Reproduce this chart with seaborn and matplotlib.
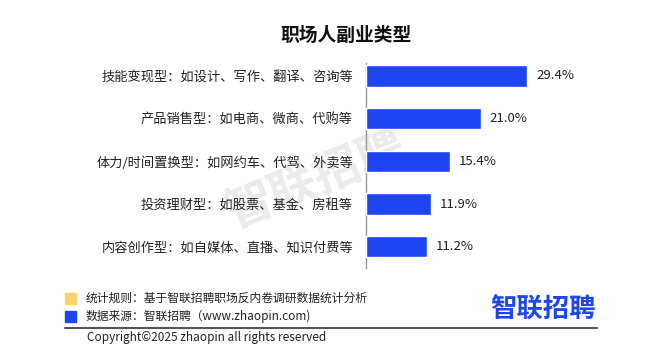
import matplotlib
matplotlib.use("Agg")
import matplotlib.pyplot as plt
import seaborn as sns
import pandas as pd
from matplotlib.patches import Rectangle
from matplotlib.lines import Line2D

# data
categories = [
    "技能变现型：如设计、写作、翻译、咨询等",
    "产品销售型：如电商、微商、代购等",
    "体力/时间置换型：如网约车、代驾、外卖等",
    "投资理财型：如股票、基金、房租等",
    "内容创作型：如自媒体、直播、知识付费等",
]
shares = [29.4, 21.0, 15.4, 11.9, 11.2]
value_labels = ["29.4%", "21.0%", "15.4%", "11.9%", "11.2%"]

title = "职场人副业类型"
note_rule = "统计规则：基于智联招聘职场反内卷调研数据统计分析"
note_source = "数据来源：智联招聘（www.zhaopin.com)"
copyright_text = "Copyright©2025 zhaopin all rights reserved"
logo_text = "智联招聘"

blue = "#1f45f3"
yellow = "#fdd36b"

sns.set_theme(style="white")
plt.rcParams['font.family'] = ['Noto Sans CJK SC', 'DejaVu Sans']

df = pd.DataFrame({"category": categories, "share": shares})

fig = plt.figure(figsize=(6.61, 3.58), dpi=100)
ax = fig.add_axes([0.553, 0.251, 0.354, 0.573])
ax.set_zorder(2)
ax.set_facecolor("none")

# watermark behind the chart
fig.text(316 / 661, 1 - 180 / 358, logo_text, fontsize=34, fontweight="bold", color="#ebebeb",
         rotation=22, ha="center", va="center", zorder=-5)

sns.barplot(data=df, y="category", x="share", color=blue, width=0.5,
            saturation=1, ax=ax, zorder=3)

for i, (v, lab) in enumerate(zip(shares, value_labels)):
    ax.text(v + 1.6, i, lab, va="center", ha="left", fontsize=9.5, color="#222222")

ax.set_xlim(0, 42.5)
ax.set_ylim(4.5, -0.3)
ax.set_xlabel("")
ax.set_ylabel("")
ax.set_xticks([])
for s in ["top", "right", "bottom"]:
    ax.spines[s].set_visible(False)
ax.spines["left"].set_color("#999999")
ax.spines["left"].set_linewidth(1)
ax.tick_params(axis="y", which="major", length=0, pad=9, labelsize=9.5, labelcolor="#222222")
ax.set_yticks([-0.3, 0.5, 1.5, 2.5, 3.5, 4.5], minor=True)
ax.tick_params(axis="y", which="minor", length=5, color="#999999", width=1)

fig.text(346 / 661, 1 - 35 / 358, title, fontsize=13.5, fontweight="bold",
         ha="center", va="center", color="#111111")

# footer
fig.patches.append(Rectangle((65 / 661, 1 - 304 / 358), 11 / 661, 11 / 358,
                             transform=fig.transFigure, color=yellow))
fig.patches.append(Rectangle((65 / 661, 1 - 322 / 358), 11 / 661, 11 / 358,
                             transform=fig.transFigure, color=blue))
fig.text(86 / 661, 1 - 298 / 358, note_rule, fontsize=8.5, va="center", color="#222222")
fig.text(86 / 661, 1 - 316 / 358, note_source, fontsize=8.5, va="center", color="#222222")
fig.lines.append(Line2D([65 / 661, 597 / 661], [1 - 328 / 358, 1 - 328 / 358],
                        transform=fig.transFigure, color="#555555", linewidth=1.5))
fig.text(87 / 661, 1 - 338 / 358, copyright_text, fontsize=8.5, va="center", color="#222222")
fig.text(543 / 661, 1 - 310 / 358, logo_text, fontsize=19, fontweight="bold",
         ha="center", va="center", color=blue)

plt.savefig("out.png", dpi=100)
